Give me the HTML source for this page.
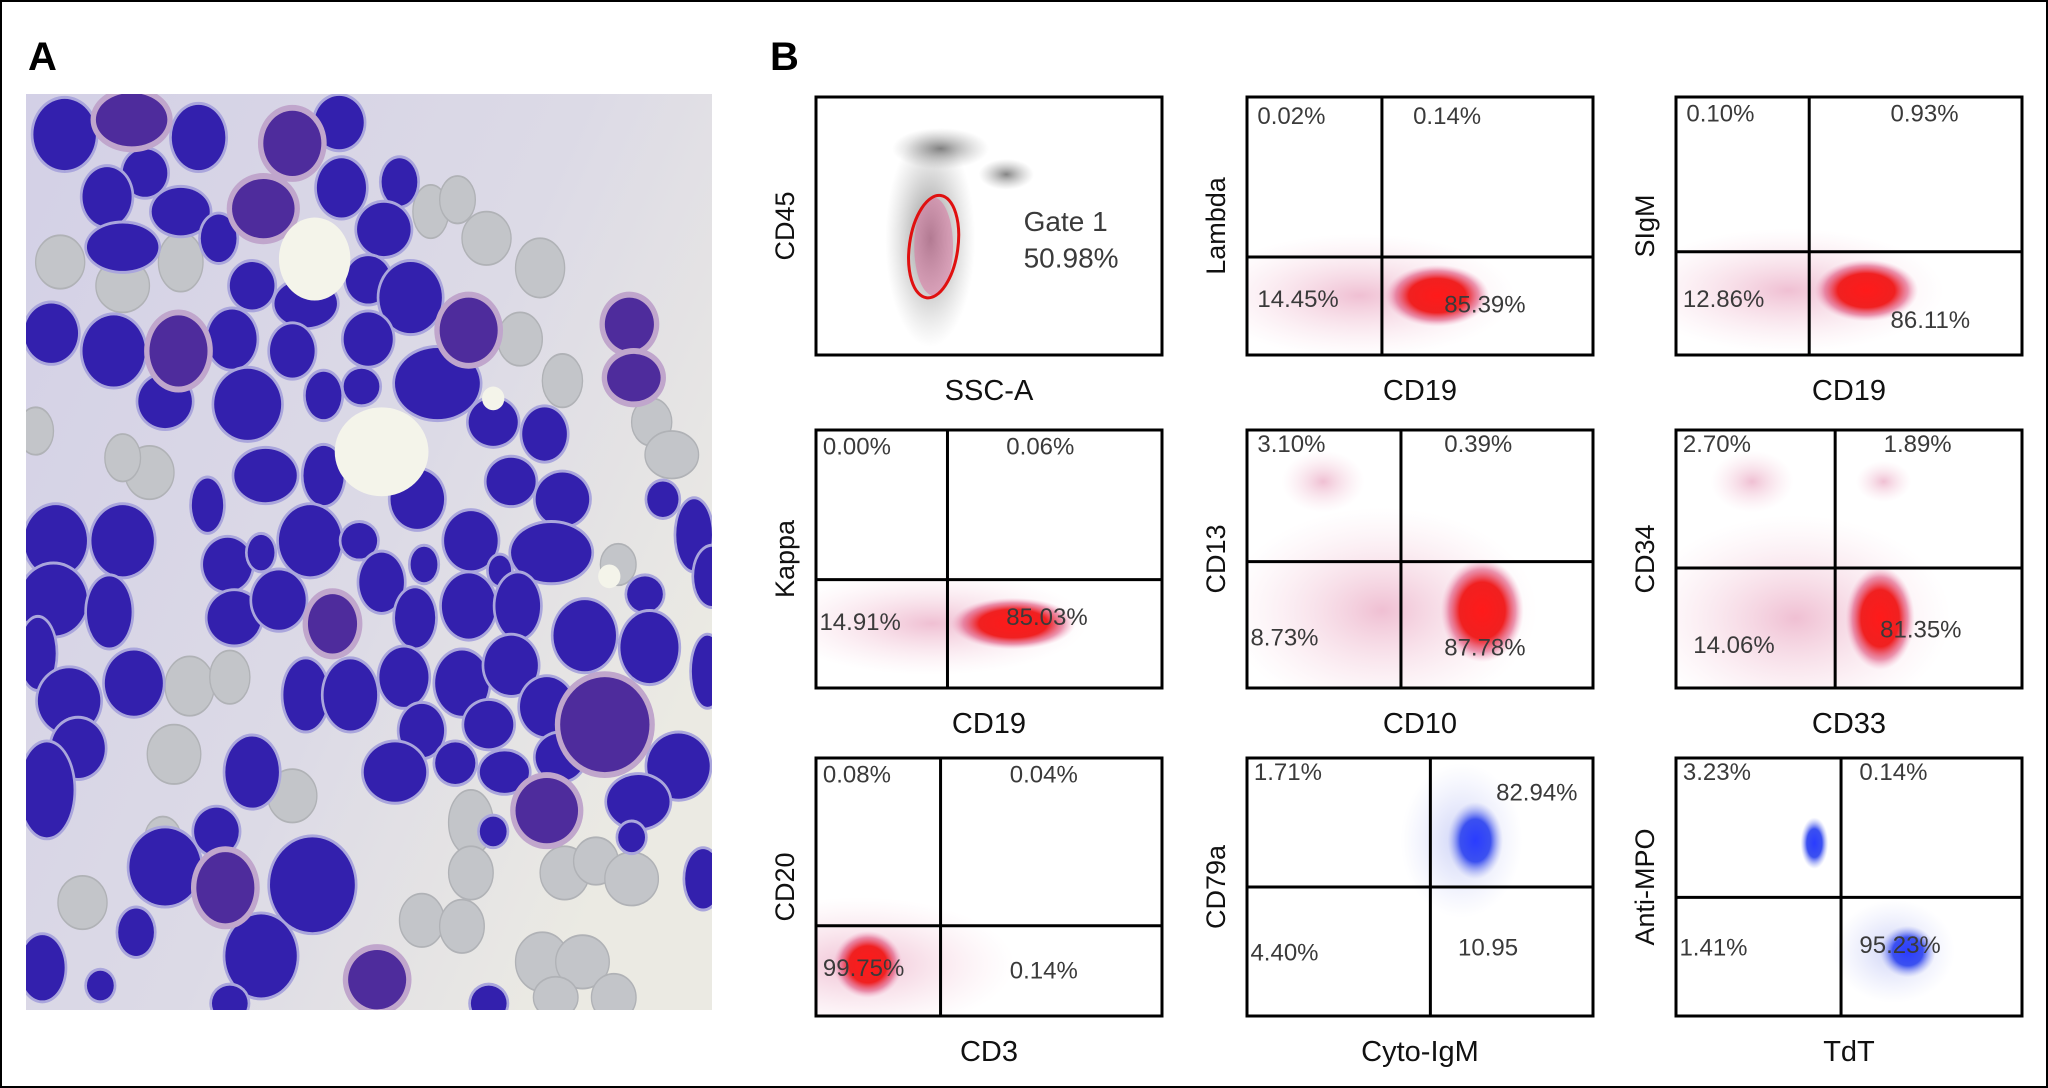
<!DOCTYPE html>
<html><head><meta charset="utf-8">
<style>
html,body{margin:0;padding:0;background:#fff}
svg{display:block}
.ax{font-family:"Liberation Sans Narrow","Liberation Sans",sans-serif;font-size:29px;fill:#111}
.yl{font-family:"Liberation Sans",sans-serif;font-size:27px;fill:#111}
.pct{font-family:"Liberation Sans Narrow","Liberation Sans",sans-serif;font-size:24px;fill:#3a3a3a}
.lbl{font-family:"Liberation Sans",sans-serif;font-weight:bold;font-size:40px;fill:#000}
</style></head>
<body>
<svg id="fig" width="2048" height="1088" viewBox="0 0 2048 1088" xmlns="http://www.w3.org/2000/svg">
<defs>
<radialGradient id="gRed"><stop offset="0" stop-color="#ff1a1a"/><stop offset="0.55" stop-color="#f02020"/><stop offset="0.8" stop-color="#e0507a" stop-opacity="0.6"/><stop offset="1" stop-color="#f0a0c0" stop-opacity="0"/></radialGradient>
<radialGradient id="gPink"><stop offset="0" stop-color="#d86090" stop-opacity="0.4"/><stop offset="1" stop-color="#f0b0c8" stop-opacity="0"/></radialGradient>
<radialGradient id="gBlue"><stop offset="0" stop-color="#2a3cff"/><stop offset="0.55" stop-color="#3b50f0"/><stop offset="1" stop-color="#a0a8f0" stop-opacity="0"/></radialGradient>
<radialGradient id="gBlueSoft"><stop offset="0" stop-color="#7080e8" stop-opacity="0.35"/><stop offset="1" stop-color="#a0a8f0" stop-opacity="0"/></radialGradient>
<radialGradient id="gGray"><stop offset="0" stop-color="#333" stop-opacity="0.6"/><stop offset="1" stop-color="#888" stop-opacity="0"/></radialGradient>
<clipPath id="photoClip"><rect x="26" y="94" width="686" height="916"/></clipPath>
<linearGradient id="bgG" x1="0" y1="0" x2="1" y2="0.6"><stop offset="0" stop-color="#d3d0e6"/><stop offset="0.6" stop-color="#dcdae6"/><stop offset="1" stop-color="#ebeae3"/></linearGradient>
</defs>
<rect x="1" y="1" width="2046" height="1086" fill="#fff" stroke="#000" stroke-width="2"/>
<text class="lbl" x="28" y="70">A</text>
<text class="lbl" x="770" y="70">B</text>
<g clip-path="url(#photoClip)">
<rect x="26" y="94" width="686" height="916" fill="url(#bgG)"/>
<svg id="photo" x="20" y="90" width="700" height="930" viewBox="0 0 1568 1568" preserveAspectRatio="none"></svg>
</g>
<g id="plots"></g>
</svg>
<script>
const darkCells=[[100,75,70,60],[400,80,60,55],[715,55,55,45],[280,140,50,40],[195,180,55,50],[360,205,65,40],[720,165,55,50],[850,155,40,40],[230,265,80,40],[445,250,40,40],[815,235,60,45],[520,330,50,40],[640,360,70,40],[780,320,50,40],[875,350,70,60],[70,410,60,50],[210,440,70,60],[475,420,55,50],[610,440,50,45],[780,420,55,45],[935,495,95,60],[325,525,60,45],[510,530,75,60],[680,515,40,40],[765,500,40,30],[1060,560,55,40],[1175,580,50,45],[550,650,70,45],[680,650,45,50],[890,690,60,50],[1100,660,55,40],[1215,690,60,45],[1440,690,35,30],[1510,750,40,60],[80,760,70,60],[230,760,70,60],[420,700,35,45],[650,760,70,60],[465,800,55,45],[540,780,30,30],[760,760,40,30],[810,830,50,50],[905,800,30,30],[1010,760,60,50],[1190,780,90,50],[1075,810,25,25],[1550,820,40,50],[75,860,75,60],[200,880,50,60],[480,890,60,45],[580,860,60,50],[885,890,45,50],[1005,870,60,55],[1115,870,50,55],[1400,850,40,30],[1265,920,70,60],[1410,940,65,60],[1540,980,35,60],[40,950,40,60],[255,1000,65,55],[110,1030,70,55],[640,1020,50,60],[740,1020,60,60],[860,990,55,50],[990,1000,60,55],[1100,970,60,50],[1180,1040,60,50],[1475,1140,70,55],[130,1110,60,50],[900,1080,50,45],[1050,1070,55,40],[840,1150,70,50],[975,1135,45,35],[1085,1150,55,35],[1210,1125,55,40],[1385,1200,70,45],[520,1150,60,60],[60,1180,60,80],[1060,1250,30,25],[1370,1260,30,25],[440,1250,50,40],[325,1310,80,65],[655,1340,95,80],[1530,1330,40,50],[540,1460,80,70],[260,1420,40,40],[50,1480,50,55],[180,1510,30,25],[1050,1540,40,30],[470,1540,40,30]];
const purpleCells=[[250,50,80,45],[610,90,65,55],[545,200,70,50],[1005,405,65,55],[1365,395,55,45],[1375,485,60,40],[355,440,65,60],[700,900,55,50],[1310,1070,100,80],[1180,1215,70,55],[460,1345,65,60],[800,1500,65,50]];
const grayCells=[[90,290,55,45],[230,330,60,45],[360,290,50,50],[920,205,40,45],[980,185,40,40],[1045,250,55,45],[1165,300,55,50],[1120,420,50,45],[1215,490,45,45],[1415,560,45,40],[1460,615,60,40],[290,645,55,45],[230,620,40,40],[380,1005,55,50],[470,990,45,45],[345,1120,60,50],[610,1190,55,45],[1010,1235,50,55],[1010,1320,50,45],[1220,1320,55,45],[1290,1300,50,40],[1370,1330,60,45],[900,1400,50,45],[990,1410,50,45],[140,1370,55,45],[1170,1470,60,50],[1260,1470,60,45],[1330,1530,50,40],[1200,1530,50,35],[1340,800,40,35],[35,575,40,40],[320,1260,40,35]];
const whites=[[660,285,80,70],[810,610,105,75],[1060,520,25,20],[1320,820,25,20]];
const NS="http://www.w3.org/2000/svg";
const photo=document.getElementById('photo');
function ell(parent,c,fill,stroke,sw){const e=document.createElementNS(NS,'ellipse');e.setAttribute('cx',c[0]);e.setAttribute('cy',c[1]);e.setAttribute('rx',c[2]);e.setAttribute('ry',c[3]);e.setAttribute('fill',fill);if(stroke){e.setAttribute('stroke',stroke);e.setAttribute('stroke-width',sw);}parent.appendChild(e);return e;}
grayCells.forEach(c=>{const e=ell(photo,c,'#c3c5c9','#b0b2b6',3);

});
darkCells.forEach(c=>{ell(photo,[c[0],c[1],c[2]+6,c[3]+5],'#aaa6dc');const e=ell(photo,c,'#3320ad');

});
purpleCells.forEach(c=>{ell(photo,[c[0],c[1],c[2]+12,c[3]+10],'#c0a6cc');const e=ell(photo,c,'#4e2c9c');

});
whites.forEach(c=>{const e=ell(photo,c,'#f4f4ea');

});

// ---- flow cytometry plot data ----
const xLabels=["SSC-A","CD19","CD19","CD19","CD10","CD33","CD3","Cyto-IgM","TdT"];
const yLabels=["CD45","Lambda","SIgM","Kappa","CD13","CD34","CD20","CD79a","Anti-MPO"];
const quadUL=[null,"0.02%","0.10%","0.00%","3.10%","2.70%","0.08%","1.71%","3.23%"];
const quadUR=[null,"0.14%","0.93%","0.06%","0.39%","1.89%","0.04%","82.94%","0.14%"];
const quadLL=[null,"14.45%","12.86%","14.91%","8.73%","14.06%","99.75%","4.40%","1.41%"];
const quadLR=[null,"85.39%","86.11%","85.03%","87.78%","81.35%","0.14%","10.95","95.23%"];
const splitX=[null,0.39,0.385,0.38,0.445,0.46,0.36,0.53,0.477];
const splitY=[null,0.62,0.60,0.58,0.51,0.535,0.65,0.50,0.54];
const popX=[0.34,0.55,0.55,0.57,0.68,0.59,0.15,0.66,0.67];
const popY=[0.58,0.77,0.75,0.75,0.70,0.73,0.80,0.32,0.75];
const popSX=[0.07,0.15,0.15,0.18,0.12,0.10,0.10,0.08,0.08];
const popSY=[0.20,0.12,0.12,0.10,0.20,0.20,0.13,0.15,0.10];
const popColor=["gate","red","red","red","red","red","red","blue","blue"];
const gateLabel=["Gate 1","50.98%"];
const ulPos=[null,[0.03,0.07],[0.03,0.06],[0.02,0.06],[0.03,0.05],[0.02,0.05],[0.02,0.06],[0.02,0.05],[0.02,0.05]];
const urPos=[null,[0.48,0.07],[0.62,0.06],[0.55,0.06],[0.57,0.05],[0.60,0.05],[0.56,0.06],[0.72,0.13],[0.53,0.05]];
const llPos=[null,[0.03,0.78],[0.02,0.78],[0.01,0.74],[0.01,0.80],[0.05,0.83],[0.02,0.81],[0.01,0.75],[0.01,0.73]];
const lrPos=[null,[0.57,0.80],[0.62,0.86],[0.55,0.72],[0.57,0.84],[0.59,0.77],[0.56,0.82],[0.61,0.73],[0.53,0.72]];

const colX=[816,1247,1676], rowY=[97,430,758], PW=346, PH=258;
const plots=document.getElementById('plots');
const defs=document.querySelector('defs');
function mk(tag,attrs,parent){const e=document.createElementNS(NS,tag);for(const k in attrs)e.setAttribute(k,attrs[k]);parent.appendChild(e);return e;}
function txt(parent,cls,x,y,s,extra){const t=mk('text',Object.assign({class:cls,x:x,y:y},extra||{}),parent);t.textContent=s;return t;}

for(let i=0;i<9;i++){
  const x0=colX[i%3], y0=rowY[Math.floor(i/3)];
  const sx=f=>x0+f*PW, sy=f=>y0+f*PH;
  const cp=mk('clipPath',{id:'pc'+i},defs);
  mk('rect',{x:x0,y:y0,width:PW,height:PH},cp);
  const g=mk('g',{},plots);
  
  
  const d=mk('g',{'clip-path':'url(#pc'+i+')'},g);
  if(popColor[i]==='gate'){
    const b=mk('ellipse',{cx:sx(0.33),cy:sy(0.55),rx:PW*0.13,ry:PH*0.42,fill:'url(#gGray)'},d);
    
    
    mk('ellipse',{cx:sx(0.36),cy:sy(0.2),rx:PW*0.14,ry:PH*0.08,fill:'url(#gGray)'},d);
    mk('ellipse',{cx:sx(0.55),cy:sy(0.3),rx:PW*0.08,ry:PH*0.06,fill:'url(#gGray)'},d);
    const p=mk('ellipse',{cx:sx(popX[i]),cy:sy(popY[i]),rx:PW*popSX[i]*0.8,ry:PH*popSY[i]*0.95,fill:'#e070a0','fill-opacity':0.5},d);
    
    
    const gate=mk('ellipse',{cx:sx(popX[i]),cy:sy(popY[i]),rx:PW*popSX[i],ry:PH*popSY[i],fill:'none',stroke:'#e01010','stroke-width':3,transform:`rotate(8 ${sx(popX[i])} ${sy(popY[i])})`},g);
    
    
    const t1=txt(g,'pct',sx(0.60),sy(0.52),gateLabel[0],{style:'font-size:28px'});
    
    
    const t2=txt(g,'pct',sx(0.60),sy(0.66),gateLabel[1],{style:'font-size:28px'});
    
    
  } else {
    const isBlue=popColor[i]==='blue';
    const h=mk('ellipse',{cx:sx(isBlue?popX[i]-0.04:(popX[i]+0.1)/2),cy:sy(popY[i]),rx:PW*(isBlue?popSX[i]*2.2:0.45),ry:PH*popSY[i]*2,fill:isBlue?'url(#gBlueSoft)':'url(#gPink)'},d);
    
    
    if(i===4||i===5){mk('ellipse',{cx:sx(0.22),cy:sy(0.2),rx:PW*0.12,ry:PH*0.12,fill:'url(#gPink)'},d);
      if(i===5)mk('ellipse',{cx:sx(0.6),cy:sy(0.2),rx:PW*0.08,ry:PH*0.08,fill:'url(#gPink)'},d);}
    if(i===8)mk('ellipse',{cx:sx(0.4),cy:sy(0.33),rx:PW*0.04,ry:PH*0.1,fill:'url(#gBlue)'},d);
    const p=mk('ellipse',{cx:sx(popX[i]),cy:sy(popY[i]),rx:PW*popSX[i],ry:PH*popSY[i],fill:isBlue?'url(#gBlue)':'url(#gRed)'},d);
    
    
    const vl=mk('line',{x1:sx(splitX[i]),x2:sx(splitX[i]),y1:y0,y2:y0+PH,stroke:'#000','stroke-width':3},g);
    
    
    const hl=mk('line',{x1:x0,x2:x0+PW,y1:sy(splitY[i]),y2:sy(splitY[i]),stroke:'#000','stroke-width':3},g);
    
    
    const vals=[quadUL[i],quadUR[i],quadLL[i],quadLR[i]], pos=[ulPos[i],urPos[i],llPos[i],lrPos[i]], nm=['upper-left','upper-right','lower-left','lower-right'];
    for(let k=0;k<4;k++){
      const t=txt(g,'pct',sx(pos[k][0]),sy(pos[k][1])+9,vals[k]);
      
      
    }
  }
  const frame=mk('rect',{x:x0,y:y0,width:PW,height:PH,fill:'none',stroke:'#000','stroke-width':3},g);
  
  
  const xl=txt(g,'ax',x0+PW/2,y0+PH+45,xLabels[i],{'text-anchor':'middle'});
  
  
  const cx=x0-22, cy=y0+PH/2;
  const yl=txt(g,'yl',cx,cy,yLabels[i],{'text-anchor':'middle',transform:`rotate(-90 ${cx} ${cy})`});
  
  
}
</script>
</body></html>
